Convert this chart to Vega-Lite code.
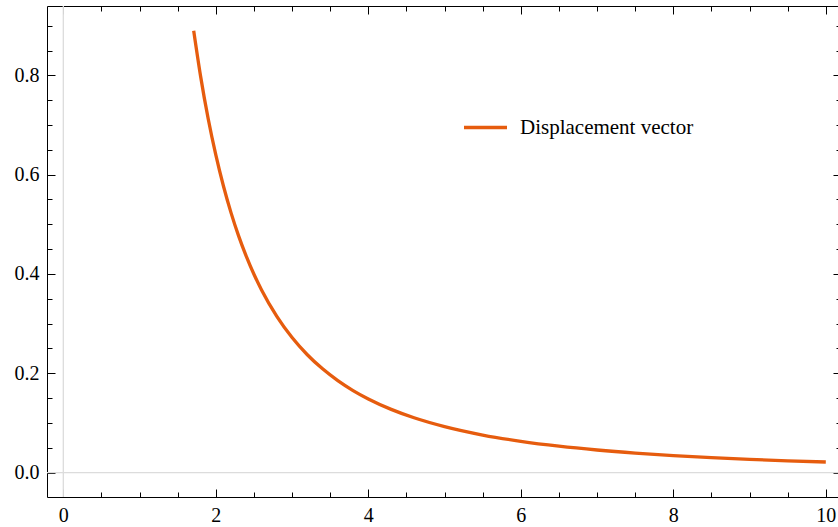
{
  "$schema": "https://vega.github.io/schema/vega-lite/v6.json",
  "width": 791,
  "height": 491,
  "autosize": {"type": "none"},
  "padding": {"left": 47, "top": 6, "right": 0, "bottom": 30},
  "background": "#ffffff",
  "config": {
    "view": {"stroke": null},
    "axis": {
      "domainColor": "#000000",
      "domainWidth": 1,
      "tickColor": "#000000",
      "tickWidth": 1,
      "labelColor": "#000000",
      "labelFont": "Liberation Serif",
      "labelFontSize": 20,
      "grid": false,
      "title": null,
      "labelFlush": false,
      "labelOverlap": false
    }
  },
  "datasets": {
    "curve": [
      {"x": 1.71, "y": 0.8897, "series": "Displacement vector"},
      {"x": 1.8, "y": 0.7984, "series": "Displacement vector"},
      {"x": 1.9, "y": 0.7125, "series": "Displacement vector"},
      {"x": 2.0, "y": 0.6397, "series": "Displacement vector"},
      {"x": 2.1, "y": 0.5771, "series": "Displacement vector"},
      {"x": 2.2, "y": 0.5231, "series": "Displacement vector"},
      {"x": 2.3, "y": 0.4762, "series": "Displacement vector"},
      {"x": 2.4, "y": 0.4354, "series": "Displacement vector"},
      {"x": 2.5, "y": 0.3995, "series": "Displacement vector"},
      {"x": 2.6, "y": 0.3678, "series": "Displacement vector"},
      {"x": 2.8, "y": 0.3146, "series": "Displacement vector"},
      {"x": 3.0, "y": 0.272, "series": "Displacement vector"},
      {"x": 3.2, "y": 0.2374, "series": "Displacement vector"},
      {"x": 3.4, "y": 0.209, "series": "Displacement vector"},
      {"x": 3.6, "y": 0.1853, "series": "Displacement vector"},
      {"x": 3.8, "y": 0.1653, "series": "Displacement vector"},
      {"x": 4.0, "y": 0.1484, "series": "Displacement vector"},
      {"x": 4.3, "y": 0.1274, "series": "Displacement vector"},
      {"x": 4.6, "y": 0.1105, "series": "Displacement vector"},
      {"x": 5.0, "y": 0.0927, "series": "Displacement vector"},
      {"x": 5.5, "y": 0.0758, "series": "Displacement vector"},
      {"x": 6.0, "y": 0.0631, "series": "Displacement vector"},
      {"x": 6.5, "y": 0.0533, "series": "Displacement vector"},
      {"x": 7.0, "y": 0.0456, "series": "Displacement vector"},
      {"x": 7.5, "y": 0.0394, "series": "Displacement vector"},
      {"x": 8.0, "y": 0.0344, "series": "Displacement vector"},
      {"x": 8.5, "y": 0.0303, "series": "Displacement vector"},
      {"x": 9.0, "y": 0.0269, "series": "Displacement vector"},
      {"x": 9.5, "y": 0.0239, "series": "Displacement vector"},
      {"x": 10.0, "y": 0.0215, "series": "Displacement vector"}
    ]
  },
  "data": {"name": "curve"},
  "resolve": {"axis": {"x": "independent", "y": "independent"}},
  "layer": [
    {
      "data": {"values": [{"k": 0}]},
      "mark": {"type": "rule", "color": "#dcdcdc", "strokeWidth": 1.3},
      "encoding": {
        "x": {"datum": 0, "type": "quantitative", "scale": {"domain": [-0.214, 10.16], "nice": false, "zero": false}, "axis": null}
      }
    },
    {
      "data": {"values": [{"k": 0}]},
      "mark": {"type": "rule", "color": "#dcdcdc", "strokeWidth": 1.3},
      "encoding": {
        "y": {"datum": 0, "type": "quantitative", "scale": {"domain": [-0.049, 0.9396], "nice": false, "zero": false}, "axis": null}
      }
    },
    {
      "mark": {"type": "line", "strokeWidth": 3.3, "interpolate": "monotone"},
      "encoding": {
        "x": {
          "field": "x", "type": "quantitative",
          "scale": {"domain": [-0.214, 10.16], "nice": false, "zero": false},
          "axis": {"orient": "bottom", "values": [0, 2, 4, 6, 8, 10], "tickSize": -8, "labelPadding": 16, "domain": true}
        },
        "y": {
          "field": "y", "type": "quantitative",
          "scale": {"domain": [-0.049, 0.9396], "nice": false, "zero": false},
          "axis": {"orient": "left", "values": [0, 0.2, 0.4, 0.6, 0.8], "format": ".1f", "tickSize": -8, "labelPadding": 16, "domain": true}
        },
        "color": {
          "field": "series", "type": "nominal",
          "scale": {"domain": ["Displacement vector"], "range": ["#e65c0e"]},
          "legend": {
            "orient": "none", "legendX": 415, "legendY": 98, "title": null,
            "symbolType": "stroke", "symbolSize": 1849, "symbolStrokeWidth": 3.3,
            "labelFont": "Liberation Serif", "labelFontSize": 21, "labelColor": "#000000",
            "labelLimit": 500, "labelOffset": 11, "padding": 0, "rowPadding": 0
          }
        }
      }
    },
    {
      "mark": {"type": "line", "opacity": 0},
      "encoding": {
        "x": {
          "field": "x", "type": "quantitative",
          "axis": {"orient": "bottom", "values": [0.5, 1, 1.5, 2.5, 3, 3.5, 4.5, 5, 5.5, 6.5, 7, 7.5, 8.5, 9, 9.5], "tickSize": -5, "labels": false, "domain": false}
        },
        "y": {
          "field": "y", "type": "quantitative",
          "axis": {"orient": "left", "values": [0.05, 0.1, 0.15, 0.25, 0.3, 0.35, 0.45, 0.5, 0.55, 0.65, 0.7, 0.75, 0.85, 0.9], "tickSize": -5, "labels": false, "domain": false}
        }
      }
    },
    {
      "mark": {"type": "line", "opacity": 0},
      "encoding": {
        "x": {
          "field": "x", "type": "quantitative",
          "axis": {"orient": "top", "values": [0, 2, 4, 6, 8, 10], "tickSize": -8, "labels": false, "domain": true}
        },
        "y": {
          "field": "y", "type": "quantitative",
          "axis": {"orient": "right", "offset": 3, "values": [0, 0.2, 0.4, 0.6, 0.8], "tickSize": -8, "labels": false, "domain": false}
        }
      }
    },
    {
      "mark": {"type": "line", "opacity": 0},
      "encoding": {
        "x": {
          "field": "x", "type": "quantitative",
          "axis": {"orient": "top", "values": [0.5, 1, 1.5, 2.5, 3, 3.5, 4.5, 5, 5.5, 6.5, 7, 7.5, 8.5, 9, 9.5], "tickSize": -5, "labels": false, "domain": false}
        },
        "y": {
          "field": "y", "type": "quantitative",
          "axis": {"orient": "right", "offset": 3, "values": [0.05, 0.1, 0.15, 0.25, 0.3, 0.35, 0.45, 0.5, 0.55, 0.65, 0.7, 0.75, 0.85, 0.9], "tickSize": -5, "labels": false, "domain": false}
        }
      }
    }
  ]
}
